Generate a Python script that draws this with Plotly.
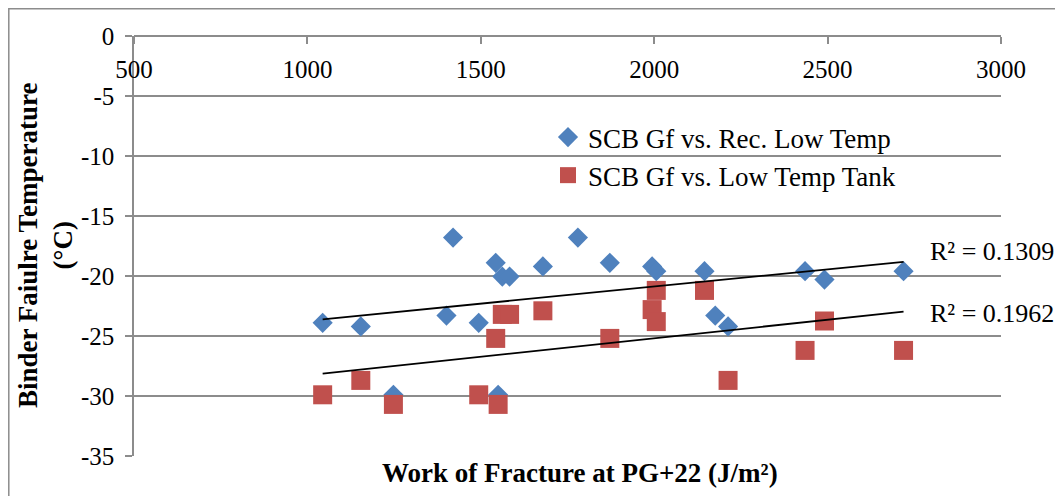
import numpy as np
import plotly.graph_objects as go

# ---- data ----
rec_x = [1044, 1154, 1248, 1401, 1420, 1494, 1543, 1550, 1562, 1583, 1679,
         1780, 1872, 1994, 2006, 2145, 2176, 2213, 2435, 2491, 2719]
rec_y = [-23.9, -24.2, -29.9, -23.3, -16.8, -23.9, -18.9, -29.9, -20.05, -20.05, -19.2,
         -16.8, -18.9, -19.2, -19.6, -19.6, -23.3, -24.2, -19.6, -20.3, -19.6]

tank_x = [1044, 1154, 1248, 1494, 1543, 1550, 1562, 1583, 1679, 1872,
          1994, 2006, 2006, 2145, 2213, 2435, 2491, 2719]
tank_y = [-29.9, -28.7, -30.7, -29.9, -25.2, -30.7, -23.2, -23.2, -22.9, -25.2,
          -22.8, -21.2, -23.8, -21.2, -28.7, -26.2, -23.75, -26.2]

series_names = ["SCB Gf vs. Rec. Low Temp", "SCB Gf vs. Low Temp Tank"]
r2_labels = ["R² = 0.1309", "R² = 0.1962"]
x_ticks = [500, 1000, 1500, 2000, 2500, 3000]
x_ticktext = ["500", "1000", "1500", "2000", "2500", "3000"]
y_ticks = [0, -5, -10, -15, -20, -25, -30, -35]
y_ticktext = ["0", "-5", "-10", "-15", "-20", "-25", "-30", "-35"]

BLUE = "#4F81BD"
RED = "#C0504D"
GRID = "#8C8C8C"
FONT = "Liberation Serif, Times New Roman, serif"

# page offset (body margin) compensation
OFF = 8
W, H = 1063 - OFF, 496 - OFF
PL, PR, PT, PB = 134, 1001, 36, 456          # plot area in page pixels
ML, MT = PL - OFF, PT - OFF
MR = W - ML - (PR - PL)
MB = H - MT - (PB - PT)
PW, PH = PR - PL, PB - PT


def px_x(p):
    return (p - PL) / PW


def px_y(p):
    return (PB - p) / PH


fig = go.Figure()
fig.add_trace(go.Scatter(x=rec_x, y=rec_y, mode="markers", name=series_names[0],
                         marker=dict(symbol="diamond", size=15.5, color=BLUE)))
fig.add_trace(go.Scatter(x=tank_x, y=tank_y, mode="markers", name=series_names[1],
                         marker=dict(symbol="square", size=19, color=RED)))

# linear trendlines computed from the data
for xs, ys in [(rec_x, rec_y), (tank_x, tank_y)]:
    k, b = np.polyfit(xs, ys, 1)
    xe = np.array([min(xs), max(xs)])
    fig.add_trace(go.Scatter(x=xe, y=k * xe + b, mode="lines", showlegend=False,
                             line=dict(color="black", width=1.8), hoverinfo="skip"))

fig.update_layout(
    width=W, height=H,
    margin=dict(l=ML, r=MR, t=MT, b=MB, pad=0),
    paper_bgcolor="white", plot_bgcolor="white",
    font=dict(family=FONT, size=24, color="black"),
    showlegend=True,
    legend=dict(x=px_x(548), y=px_y(113), xanchor="left", yanchor="top",
                bgcolor="rgba(0,0,0,0)", borderwidth=0,
                font=dict(family=FONT, size=27, color="black"),
                tracegroupgap=0),
    xaxis=dict(range=[500, 3000], tickvals=x_ticks, ticktext=x_ticktext,
               ticks="outside", ticklen=7, tickcolor=GRID, tickwidth=1.5,
               showgrid=False, zeroline=False, showline=True, linecolor=GRID, linewidth=1.5,
               anchor="free", position=1, side="bottom", automargin=False,
               ticklabelstandoff=4,
               tickfont=dict(family=FONT, size=25, color="black")),
    yaxis=dict(range=[-35, 0], tickvals=y_ticks, ticktext=y_ticktext,
               ticks="outside", ticklen=7, tickcolor=GRID, tickwidth=1.5,
               showgrid=True, gridcolor=GRID, gridwidth=1.5, zeroline=False,
               showline=True, linecolor=GRID, linewidth=1.5, automargin=False,
               ticklabelstandoff=6,
               tickfont=dict(family=FONT, size=25, color="black")),
    shapes=[
        # white legend background covering gridline
        dict(type="rect", xref="paper", yref="paper",
             x0=px_x(523), x1=1.0, y0=px_y(200), y1=px_y(100),
             fillcolor="white", line=dict(width=0), layer="between"),
        # chart area border
        dict(type="rect", xref="paper", yref="paper",
             x0=px_x(8.8), x1=px_x(1100), y0=px_y(530), y1=px_y(8.8),
             fillcolor="rgba(0,0,0,0)", line=dict(color=GRID, width=1.5), layer="above"),
    ],
    annotations=[
        dict(text="Work of Fracture at PG+22 (J/m²)", xref="paper", yref="paper",
             x=px_x(580), y=px_y(473), xanchor="center", yanchor="middle", showarrow=False,
             font=dict(family=FONT, size=27, color="black", weight="bold")),
        dict(text="Binder Faiulre Temperature<br>(°C)", xref="paper", yref="paper",
             x=px_x(45), y=px_y(245), xanchor="center", yanchor="middle", showarrow=False,
             textangle=-90,
             font=dict(family=FONT, size=27, color="black", weight="bold")),
        dict(text=r2_labels[0], xref="paper", yref="paper",
             x=px_x(928), y=px_y(252), xanchor="left", yanchor="middle", showarrow=False,
             font=dict(family=FONT, size=26, color="black")),
        dict(text=r2_labels[1], xref="paper", yref="paper",
             x=px_x(928), y=px_y(313), xanchor="left", yanchor="middle", showarrow=False,
             font=dict(family=FONT, size=26, color="black")),
    ],
)

fig.write_html("out.html")
